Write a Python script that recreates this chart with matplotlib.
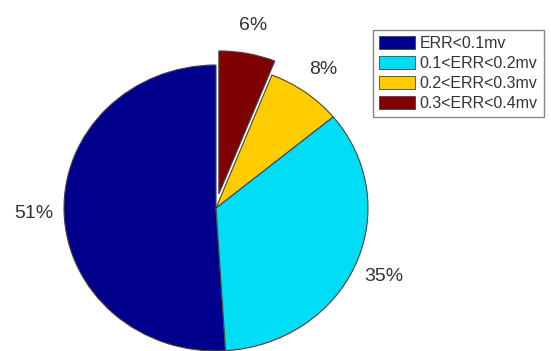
import matplotlib

matplotlib.use("Agg")
import matplotlib.pyplot as plt
from matplotlib.patches import Patch

# error share per range (percent), pie order as drawn
categories = ["ERR<0.1mv", "0.1<ERR<0.2mv", "0.2<ERR<0.3mv", "0.3<ERR<0.4mv"]
shares = [51, 35, 8, 6]
pct_labels = ["51%", "35%", "8%", "6%"]
explode = [0, 0, 0, 0.1]
colors = ["#00008c", "#00ddf5", "#ffcc00", "#7f0000"]

plt.rcParams["font.family"] = ["Liberation Sans", "DejaVu Sans"]

W, H = 551, 351
fig = plt.figure(figsize=(W / 100, H / 100), dpi=100)
ax = fig.add_axes([0, 0, 1, 1])

wedges, texts = ax.pie(
    shares,
    labels=pct_labels,
    explode=explode,
    colors=colors,
    startangle=90,
    counterclock=True,
    labeldistance=1.2,
    wedgeprops=dict(edgecolor="#444444", linewidth=0.8),
    textprops=dict(fontsize=14, color="#333333"),
)
for t in texts:
    t.set_horizontalalignment("center")
    t.set_verticalalignment("center")

# pie centre at (216, 208) px, radius ~152 px wide / 143 px tall
cx, cy, rx, ry = 216, 208, 152, 143
ax.set_aspect("auto")
ax.set_xlim(-cx / rx, (W - cx) / rx)
ax.set_ylim(-(H - cy) / ry, cy / ry)
ax.axis("off")

handles = [Patch(facecolor=c, edgecolor="#444444", linewidth=0.6) for c in colors]
leg = fig.legend(
    handles,
    categories,
    loc="upper left",
    bbox_to_anchor=(373 / W, 1 - 30 / H),
    fontsize=11.5,
    handlelength=2.2,
    handleheight=0.85,
    handletextpad=0.3,
    labelspacing=0.3,
    borderpad=0.4,
    borderaxespad=0,
    fancybox=False,
    frameon=True,
)
leg.get_frame().set_edgecolor("#666666")
leg.get_frame().set_linewidth(1.0)
for t in leg.get_texts():
    t.set_color("#333333")

fig.savefig("out.png", dpi=100)
